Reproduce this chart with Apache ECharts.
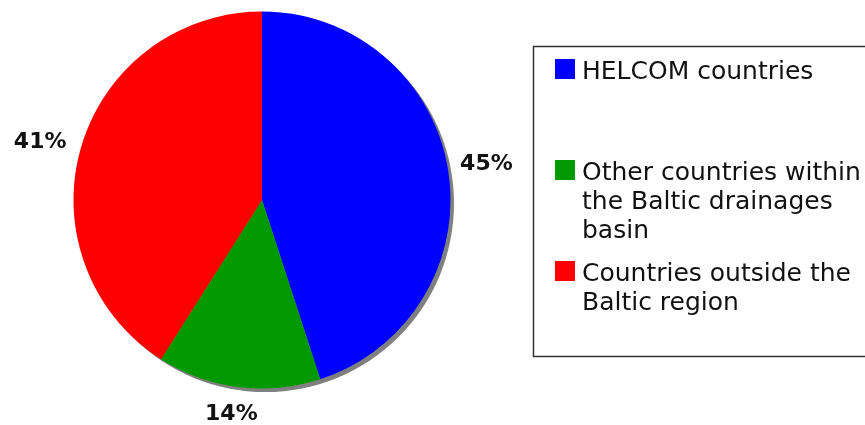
<!DOCTYPE html>
<html>
<head>
<meta charset="utf-8">
<script src="https://cdn.jsdelivr.net/npm/echarts@6/dist/echarts.min.js"></script>
<style>
  html, body { margin: 0; padding: 0; background: #fff; }
  #chart { width: 865px; height: 425px; }
</style>
</head>
<body>
<div id="chart"></div>
<script>
// Share of the total by group of countries
const categories = [
  'HELCOM countries',
  'Other countries within the Baltic drainages basin',
  'Countries outside the Baltic region'
];
const legendLines = [
  ['HELCOM countries'],
  ['Other countries within', 'the Baltic drainages', 'basin'],
  ['Countries outside the', 'Baltic region']
];
const values = [45, 14, 41];
const colors = ['#0000ff', '#009900', '#ff0000'];

const CX = 262, CY = 200, R = 188.5;
const LEGEND_FONT = 25, LEGEND_LINE = 29, TEXT_DROP = 3;
const legendTops = [59, 160, 261]; // icon top of each legend entry
const labelNudge = [[1, 0], [-4, 3], [-4, 6]]; // fine offsets of the value labels

const total = values.reduce((a, b) => a + b, 0);
const starts = [];
values.reduce((acc, v, i) => { starts[i] = acc; return acc + v; }, 0);

const chart = echarts.init(document.getElementById('chart'), null, { renderer: 'canvas' });

// One legend per entry so each entry sits in its own fixed slot. The legend
// text is centred on its square, so blank lines are put in front of a
// multi-line text to bring its first line level with the square.
const legends = categories.map((name, i) => {
  const lines = legendLines[i];
  const n = lines.length;
  const boxH = 2 * TEXT_DROP + (2 * n - 1) * LEGEND_LINE;
  const text = ['{s| }']
    .concat(Array(n - 1).fill('{t| }'))
    .concat(lines.map(l => '{t|' + l + '}'))
    .join('\n');
  return {
    data: [name],
    orient: 'vertical',
    left: 555,
    top: legendTops[i] + 10 - boxH / 2,
    padding: 0,
    itemWidth: 20,
    itemHeight: 20,
    icon: 'rect',
    selectedMode: false,
    formatter: () => text,
    textStyle: {
      fontFamily: 'DejaVu Sans',
      fontSize: LEGEND_FONT,
      lineHeight: LEGEND_LINE,
      color: '#111',
      rich: {
        s: { fontSize: 1, lineHeight: 2 * TEXT_DROP },
        t: {
          fontFamily: 'DejaVu Sans',
          fontSize: LEGEND_FONT,
          lineHeight: LEGEND_LINE,
          color: '#111',
          padding: [0, 0, 0, 2]
        }
      }
    }
  };
});

chart.setOption({
  animation: false,
  backgroundColor: '#ffffff',
  legend: legends,
  graphic: [{
    type: 'rect',
    shape: { x: 533.5, y: 46.5, width: 345, height: 310 },
    style: { fill: 'none', stroke: '#333', lineWidth: 1.5 },
    silent: true,
    z: -1
  }],
  series: [
    {
      // drop shadow under the pie
      type: 'pie',
      silent: true,
      center: [CX + 3.5, CY + 3.5],
      radius: R,
      label: { show: false },
      labelLine: { show: false },
      itemStyle: { color: '#808080' },
      data: [{ name: '', value: total }],
      z: 1
    },
    {
      type: 'pie',
      center: [CX, CY],
      radius: R,
      startAngle: 90,
      clockwise: true,
      silent: true,
      z: 2,
      data: categories.map((name, i) => ({
        name,
        value: values[i],
        itemStyle: { color: colors[i] }
      })),
      label: {
        show: true,
        position: 'outside',
        overflow: 'none',
        formatter: p => p.value + '%',
        fontFamily: 'DejaVu Sans',
        fontWeight: 'bold',
        fontSize: 22,
        color: '#111'
      },
      labelLine: { show: false },
      // value labels sit just outside the rim, on the middle of their slice
      labelLayout: function (params) {
        if (params.seriesIndex !== 1) return {};
        const i = params.dataIndex;
        const mid = (starts[i] + values[i] / 2) / total * Math.PI * 2;
        const s = Math.sin(mid), c = Math.cos(mid);
        const w = params.labelRect.width, h = params.labelRect.height;
        const dist = R + 10 + (w / 2) * Math.abs(s) + (h / 2) * Math.abs(c);
        return {
          x: CX + dist * s + labelNudge[i][0],
          y: CY - dist * c + labelNudge[i][1],
          align: 'center',
          verticalAlign: 'middle'
        };
      }
    }
  ]
});
</script>
</body>
</html>
